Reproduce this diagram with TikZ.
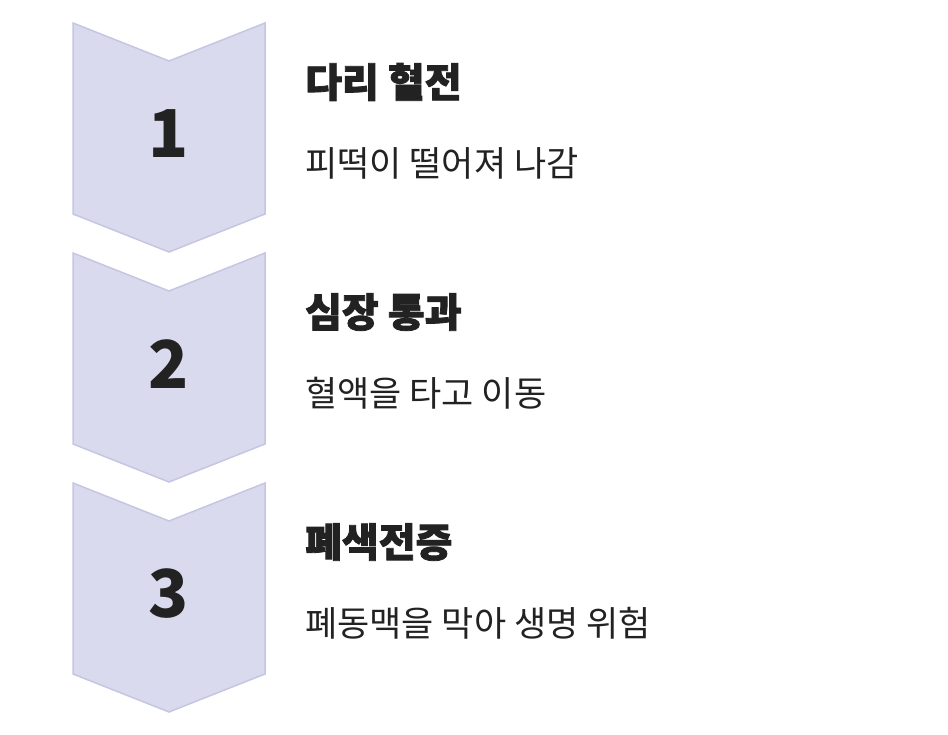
\documentclass[tikz,border=0pt]{standalone}
\usepackage{fontspec}
\setmainfont{Noto Sans CJK KR}
\newfontfamily\krblack[FakeBold=2]{Noto Sans CJK KR Black}
\definecolor{chevfill}{RGB}{217,218,238}
\definecolor{chevline}{RGB}{196,198,226}
\definecolor{ink}{RGB}{34,34,34}
\tikzset{
  chevron/.style={fill=chevfill, draw=chevline, line width=1.5pt, line join=miter},
  stepnum/.style={font=\bfseries\fontsize{66}{66}\selectfont, text=ink, inner sep=0pt},
  steptitle/.style={font=\krblack\fontsize{40}{40}\selectfont, text=ink, anchor=west, inner sep=0pt},
  stepdesc/.style={font=\fontsize{35}{35}\selectfont, text=ink, anchor=west, inner sep=0pt}
}
\begin{document}
\begin{tikzpicture}[x=1pt, y=-1pt]

% Canvas
\useasboundingbox (0,0) rectangle (948,734);

% Steps
\foreach \i/\top/\title/\desc in {1/23/다리 혈전/피떡이 떨어져 나감,
                                   2/253/심장 통과/혈액을 타고 이동,
                                   3/483/폐색전증/폐동맥을 막아 생명 위험} {
    \draw[chevron] (73,\top) -- (169,\top+38) -- (265,\top)
        -- (265,\top+191) -- (169,\top+229) -- (73,\top+191) -- cycle;
    \node[stepnum] (num\i) at (169,\top+111) {\i};
    \node[steptitle] (title\i) at (305,\top+59) {\title};
    \node[stepdesc] (desc\i) at (305,\top+140) {\desc};
}

\end{tikzpicture}
\end{document}
